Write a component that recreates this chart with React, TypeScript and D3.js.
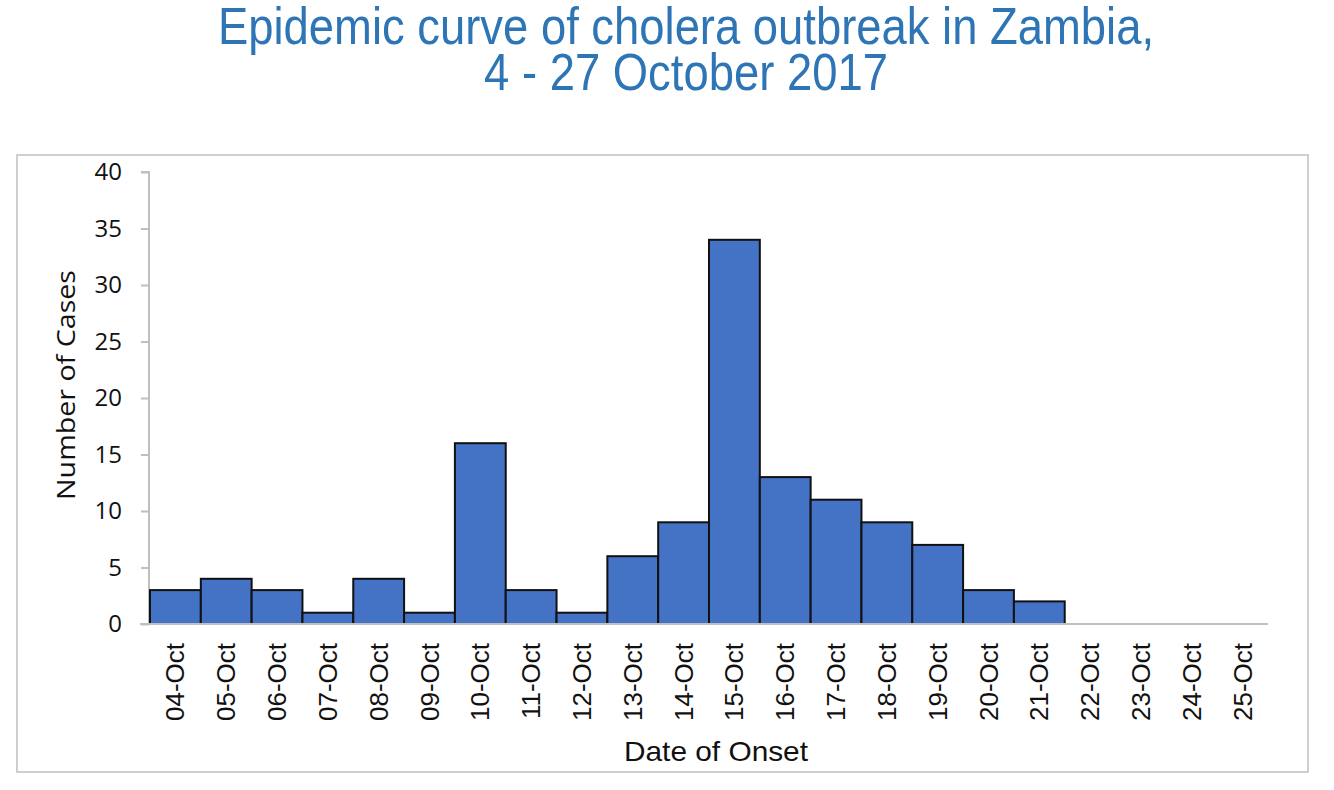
import { useEffect, useRef } from 'react';
import * as d3 from 'd3';

const dates = [
  '04-Oct', '05-Oct', '06-Oct', '07-Oct', '08-Oct', '09-Oct', '10-Oct', '11-Oct',
  '12-Oct', '13-Oct', '14-Oct', '15-Oct', '16-Oct', '17-Oct', '18-Oct', '19-Oct',
  '20-Oct', '21-Oct', '22-Oct', '23-Oct', '24-Oct', '25-Oct',
];
const cases = [3, 4, 3, 1, 4, 1, 16, 3, 1, 6, 9, 34, 13, 11, 9, 7, 3, 2, 0, 0, 0, 0];
const yTicks = [0, 5, 10, 15, 20, 25, 30, 35, 40];
const titleLines = ['Epidemic curve of cholera outbreak in Zambia,', '4 - 27 October 2017'];

const W = 1334;
const H = 790;

export default function App() {
  const svgRef = useRef<SVGSVGElement>(null);

  useEffect(() => {
    if (!svgRef.current) return;
    const svg = d3.select(svgRef.current);
    svg.selectAll('*').remove();

    // title, tall narrow glyphs, two lines in one text
    const title = svg.append('text')
      .attr('fill', '#2e75b6')
      .attr('font-family', '"Liberation Sans", Arial, sans-serif')
      .attr('font-size', 52)
      .attr('text-anchor', 'middle');
    title.append('tspan')
      .attr('x', 686).attr('y', 44)
      .attr('textLength', 936).attr('lengthAdjust', 'spacingAndGlyphs')
      .text(titleLines[0]);
    title.append('tspan')
      .attr('x', 686).attr('y', 90)
      .attr('textLength', 404).attr('lengthAdjust', 'spacingAndGlyphs')
      .text(titleLines[1]);

    // chart frame
    svg.append('rect')
      .attr('x', 17).attr('y', 155)
      .attr('width', 1291).attr('height', 617)
      .attr('fill', 'none')
      .attr('stroke', '#cfcfcf')
      .attr('stroke-width', 2);

    const x = d3.scaleBand<string>()
      .domain(dates)
      .range([150, 1268])
      .paddingInner(0)
      .paddingOuter(0);

    const y = d3.scaleLinear()
      .domain([0, 40])
      .range([624, 172]);

    const tickFont = '"Open Sans", sans-serif';
    const labelFont = '"Liberation Sans", Arial, sans-serif';

    // y axis
    const yAxis = svg.append('g')
      .attr('transform', 'translate(149,0)')
      .call(d3.axisLeft(y).tickValues(yTicks).tickSize(8).tickPadding(19));
    yAxis.select('.domain').attr('stroke', '#bfbfbf').attr('stroke-width', 2)
      .attr('d', `M-8,${y(40)}H0V${y(0)}`);
    yAxis.selectAll('.tick line').attr('stroke', '#bfbfbf').attr('stroke-width', 2);
    yAxis.selectAll('.tick text')
      .attr('font-family', tickFont)
      .attr('font-size', 24)
      .attr('fill', '#111');

    // bars
    svg.append('g')
      .selectAll('rect')
      .data(dates.map((d, i) => ({ date: d, value: cases[i] })).filter(d => d.value > 0))
      .enter()
      .append('rect')
      .attr('x', d => x(d.date)!)
      .attr('y', d => y(d.value))
      .attr('width', x.bandwidth())
      .attr('height', d => y(0) - y(d.value))
      .attr('fill', '#4472c4')
      .attr('stroke', '#111')
      .attr('stroke-width', 2);

    // x baseline
    svg.append('line')
      .attr('x1', 140).attr('x2', 1268)
      .attr('y1', y(0)).attr('y2', y(0))
      .attr('stroke', '#bfbfbf')
      .attr('stroke-width', 2);

    // x labels
    svg.append('g')
      .selectAll('text')
      .data(dates)
      .enter()
      .append('text')
      .attr('transform', d => `translate(${x(d)! + x.bandwidth() / 2 + 9},643) rotate(-90)`)
      .attr('text-anchor', 'end')
      .attr('font-family', labelFont)
      .attr('font-size', 26)
      .attr('fill', '#111')
      .text(d => d);

    // axis titles
    svg.append('text')
      .attr('transform', 'translate(75,385) rotate(-90)')
      .attr('text-anchor', 'middle')
      .attr('font-family', tickFont)
      .attr('font-size', 26)
      .attr('textLength', 230).attr('lengthAdjust', 'spacingAndGlyphs')
      .attr('fill', '#111')
      .text('Number of Cases');
    svg.append('text')
      .attr('x', 716).attr('y', 761)
      .attr('text-anchor', 'middle')
      .attr('font-family', labelFont)
      .attr('font-size', 28)
      .attr('textLength', 184).attr('lengthAdjust', 'spacingAndGlyphs')
      .attr('fill', '#111')
      .text('Date of Onset');
  }, []);

  return (
    <svg
      ref={svgRef}
      width={W}
      height={H}
      style={{ display: 'block', position: 'absolute', left: 0, top: 0, background: '#fff' }}
    />
  );
}
